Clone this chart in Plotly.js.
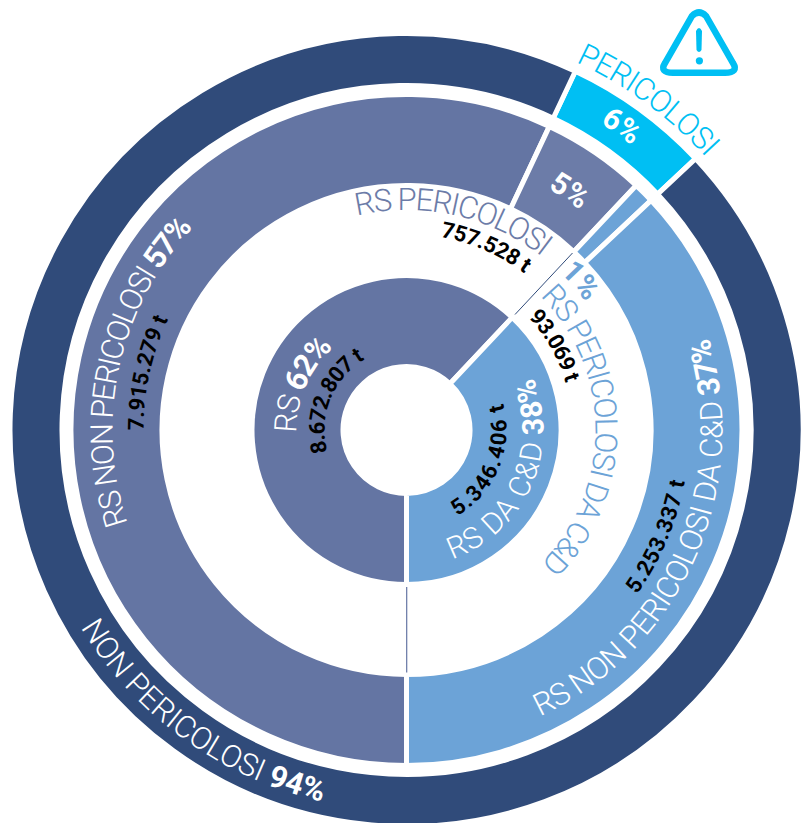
<!DOCTYPE html>
<html><head><meta charset="utf-8">
<script src="https://cdn.plot.ly/plotly-3.0.1.min.js"></script>
<style>html,body{margin:0;padding:0;background:#fff;width:808px;height:823px;overflow:hidden}</style>
</head><body><div id="chart"></div>
<script>
// ---- data (rings are drawn from the rounded percentages the picture shows) ----
const outerCategories = ['PERICOLOSI','NON PERICOLOSI'];
const outerShares = [6,94];
const middleCategories = ['RS NON PERICOLOSI','RS PERICOLOSI','RS PERICOLOSI DA C&D','RS NON PERICOLOSI DA C&D'];
const middleShares = [57,5,1,37];
const innerCategories = ['RS','RS DA C&D'];
const innerShares = [62,38];
const outerColors = ['#00BFF3','#304B7A'];
const middleColors = ['#6475A3','#6C7CA8','#6CA3D7','#6CA3D7'];
const innerColors = ['#6475A3','#6CA3D7'];
// label text, baseline radius, centre angle (deg clockwise from top), arc span (deg, 0 = natural), sweep (1 = clockwise), size, colour
const labelTexts = ['PERICOLOSI','<b>6%</b>','<b>5%</b>','RS PERICOLOSI','757.528 t','<b>1%</b>','RS PERICOLOSI DA C&D','93.069 t',
 'RS NON PERICOLOSI <b>57%</b>','7.915.279 t','NON PERICOLOSI <b>94%</b>','RS NON PERICOLOSI DA C&D <b>37%</b>','5.253.337 t',
 'RS <b>62%</b>','8.672.807 t','RS DA C&D <b>38%</b>','5.346.406 t'];
const labelRadii = [405,363,280,220,196,220,189,166,294,263,381,316,283,110,82,137,100];
const labelAngles = [36.2,35.3,34.3,12.5,23.5,49.4,90,60.4,282.5,282.4,215.8,114,113,293.5,292,114,112];
const labelSpans = [23,0,0,51,27,0,90,26.4,62,25,46,82,25,50,75,93,75];
const labelSweeps = [1,1,1,1,1,1,1,1,1,1,0,0,0,1,1,0,0];
const labelSizes = [31,30,30,31,22,30,31,22,31,22,31,31,22,31,22,30,22];
const labelColors = ['#00BFF3','#fff','#fff','#6C7CA8','#000','#6CA3D7','#6CA3D7','#000','#fff','#000','#fff','#fff','#000','#fff','#000','#fff','#000'];
const labelBold = [0,1,1,0,1,1,0,1,0,1,0,0,1,0,1,0,1];

// ---- layout helpers ----
const W=808,H=860,CX=406.5,CY=430,GAP=5,FONT='Roboto';
const fx=x=>x/W, fy=y=>1-y/H;
const dom=R=>({x:[fx(CX-R),fx(CX+R)],y:[fy(CY+R),fy(CY-R)]});
const ring=(labels,values,colors,rOut,rIn,rotation)=>({
  type:'pie',labels,values,sort:false,direction:'clockwise',rotation,
  domain:dom(rOut+GAP/2),hole:(rIn-GAP/2)/(rOut+GAP/2),
  marker:{colors,line:{color:'#fff',width:GAP}},textinfo:'none',hoverinfo:'label+value',showlegend:false});
const total=middleShares.reduce((a,b)=>a+b,0);
const outerRot=180+360*middleShares[0]/total;
const traces=[
  ring(outerCategories,outerShares,outerColors,394,347,outerRot),
  ring(middleCategories,middleShares,middleColors,333,247,180),
  ring(innerCategories,innerShares,innerColors,152,66,180)];
const P=(x,y)=>fx(x)+' '+fy(y);
const shapes=[
  {type:'line',xref:'paper',yref:'paper',x0:fx(406.7),x1:fx(406.7),y0:fy(587),y1:fy(672.5),line:{color:'#6475A3',width:1.2}},
  {type:'line',xref:'paper',yref:'paper',x0:fx(515),x1:fx(572.5),y0:fy(314.5),y1:fy(253),line:{color:'#304B7A',width:1}},
  {type:'path',xref:'paper',yref:'paper',line:{color:'#00BFF3',width:6.5},
   path:`M ${P(692,16)} Q ${P(699,9)} ${P(706,16)} L ${P(733,63)} Q ${P(739,72.7)} ${P(725,72.7)} L ${P(673,72.7)} Q ${P(659,72.7)} ${P(665,63)} Z`},
  {type:'path',xref:'paper',yref:'paper',fillcolor:'#00BFF3',line:{width:0},
   path:`M ${P(696,31)} Q ${P(699,25)} ${P(702,31)} L ${P(701.5,50)} Q ${P(699,54)} ${P(696.5,50)} Z`},
  {type:'circle',xref:'paper',yref:'paper',fillcolor:'#00BFF3',line:{width:0},x0:fx(695.8),x1:fx(703),y0:fy(64.4),y1:fy(57.2)}
];
const annotations=labelTexts.map((t,i)=>({text:t,xref:'paper',yref:'paper',x:fx(CX),y:fy(CY),showarrow:false,
  font:{family:FONT,size:labelSizes[i],color:labelColors[i],weight:labelBold[i]?700:350}}));
const layout={width:W,height:H,margin:{l:0,r:0,t:0,b:0},paper_bgcolor:'#fff',shapes,annotations,showlegend:false};

Plotly.newPlot('chart',traces,layout,{displayModeBar:false,staticPlot:true}).then(gd=>{
  // bend each annotation's text along an arc concentric with the rings
  const NS='http://www.w3.org/2000/svg';
  const svg=gd.querySelector('svg.main-svg');
  const defs=document.createElementNS(NS,'defs');svg.appendChild(defs);
  const pt=(r,a)=>{const t=a*Math.PI/180;return (CX+r*Math.sin(t)).toFixed(2)+' '+(CY-r*Math.cos(t)).toFixed(2);};
  gd.querySelectorAll('.annotation').forEach(g=>{
    const i=+g.getAttribute('data-index');
    const r=labelRadii[i],c=labelAngles[i],s=labelSpans[i],cw=labelSweeps[i];
    const half=s/2+25;
    const a0=cw?c-half:c+half,a1=cw?c+half:c-half;
    const p=document.createElementNS(NS,'path');
    p.setAttribute('id','arc'+i);
    p.setAttribute('d',`M ${pt(r,a0)} A ${r} ${r} 0 ${half*2>180?1:0} ${cw} ${pt(r,a1)}`);
    defs.appendChild(p);
    g.querySelectorAll('[transform]').forEach(e=>e.removeAttribute('transform'));
    const txt=g.querySelector('text.annotation-text');
    ['x','y'].forEach(k=>txt.removeAttribute(k));
    const tp=document.createElementNS(NS,'textPath');
    tp.setAttribute('href','#arc'+i);tp.setAttribute('startOffset','50%');
    while(txt.firstChild){const n=txt.firstChild;if(n.removeAttribute){n.removeAttribute('x');n.removeAttribute('y');n.removeAttribute('dy');}tp.appendChild(n);}
    txt.appendChild(tp);
    txt.style.textAnchor='middle';
    txt.style.whiteSpace='pre';
    if(s){tp.setAttribute('textLength',(s*Math.PI/180*r).toFixed(1));tp.setAttribute('lengthAdjust','spacing');}
    const bg=g.querySelector('rect');if(bg)bg.setAttribute('width',0);
  });
});
</script></body></html>
